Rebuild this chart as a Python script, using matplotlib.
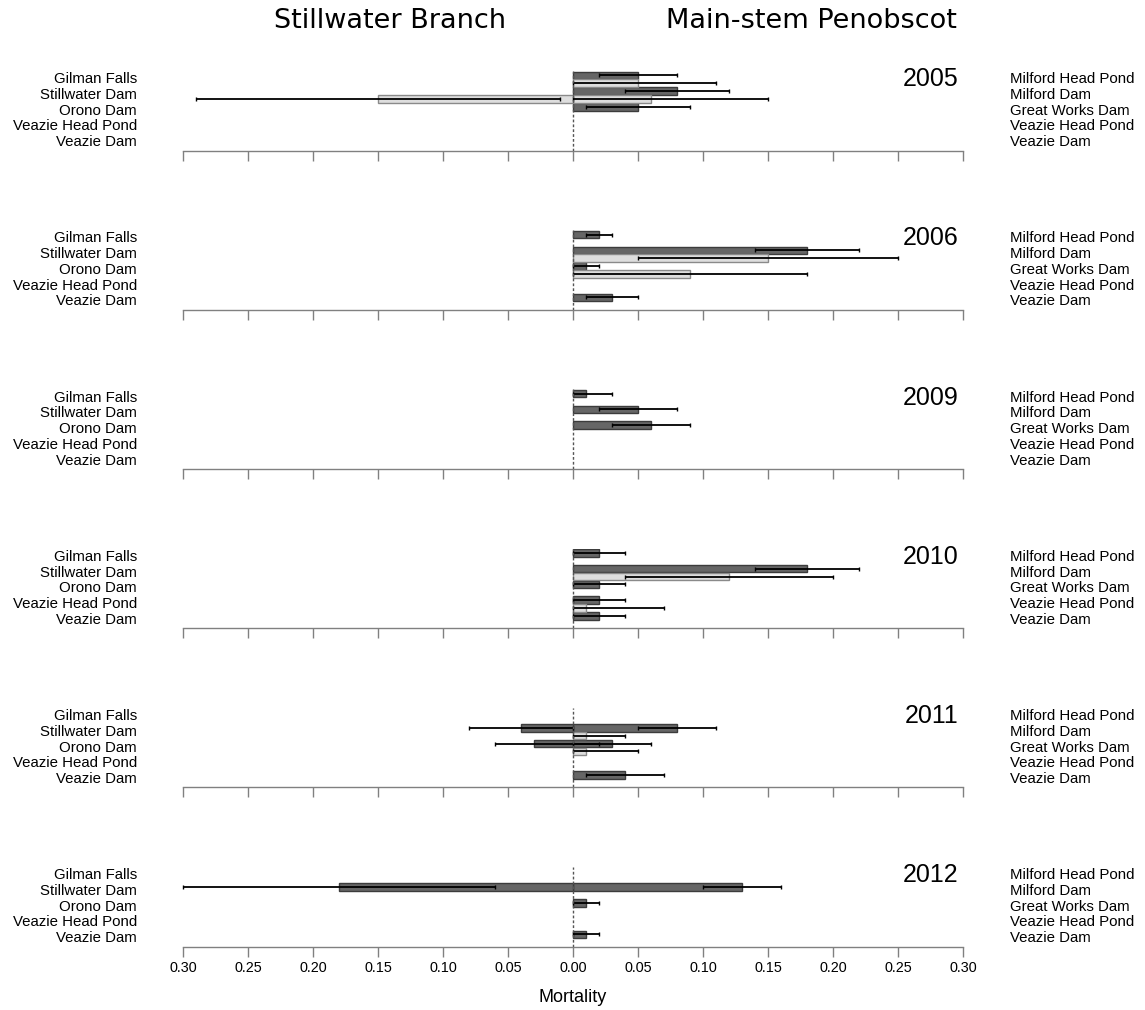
import matplotlib
matplotlib.use("Agg")
import matplotlib.pyplot as plt
import numpy as np

plt.rcParams['font.family'] = ['Liberation Sans', 'DejaVu Sans']

years = [2005, 2006, 2009, 2010, 2011, 2012]
still_sites = ["Gilman Falls", "Stillwater Dam", "Orono Dam", "Veazie Head Pond", "Veazie Dam"]
main_sites = ["Milford Head Pond", "Milford Dam", "Great Works Dam", "Veazie Head Pond", "Veazie Dam"]
tick_vals = [-0.30, -0.25, -0.20, -0.15, -0.10, -0.05, 0.0, 0.05, 0.10, 0.15, 0.20, 0.25, 0.30]

N = None
# Main-stem Penobscot (drawn to the right), dark series: estimate, lower, upper per site
main_dark = [[0.05, 0.08, 0.05, N, N],
             [0.02, 0.18, 0.01, N, 0.03],
             [0.01, 0.05, 0.06, N, N],
             [0.02, 0.18, 0.02, 0.02, 0.02],
             [N, 0.08, 0.03, N, 0.04],
             [N, 0.13, 0.01, N, 0.01]]
main_dark_lo = [[0.02, 0.04, 0.01, N, N],
                [0.01, 0.14, 0.0, N, 0.01],
                [0.0, 0.02, 0.03, N, N],
                [0.0, 0.14, 0.0, 0.0, 0.0],
                [N, 0.05, 0.0, N, 0.01],
                [N, 0.10, 0.0, N, 0.0]]
main_dark_hi = [[0.08, 0.12, 0.09, N, N],
                [0.03, 0.22, 0.02, N, 0.05],
                [0.03, 0.08, 0.09, N, N],
                [0.04, 0.22, 0.04, 0.04, 0.04],
                [N, 0.11, 0.06, N, 0.07],
                [N, 0.16, 0.02, N, 0.02]]
# light series
main_light = [[0.05, 0.06, N, N, N],
              [N, 0.15, 0.09, N, N],
              [N, N, N, N, N],
              [N, 0.12, N, 0.01, N],
              [N, 0.01, 0.01, N, N],
              [N, N, N, N, N]]
main_light_lo = [[0.0, 0.0, N, N, N],
                 [N, 0.05, 0.0, N, N],
                 [N, N, N, N, N],
                 [N, 0.04, N, 0.0, N],
                 [N, 0.0, 0.0, N, N],
                 [N, N, N, N, N]]
main_light_hi = [[0.11, 0.15, N, N, N],
                 [N, 0.25, 0.18, N, N],
                 [N, N, N, N, N],
                 [N, 0.20, N, 0.07, N],
                 [N, 0.04, 0.05, N, N],
                 [N, N, N, N, N]]

# Stillwater Branch (drawn to the left)
still_dark = [[N, N, N, N, N],
              [N, N, N, N, N],
              [N, N, N, N, N],
              [N, N, N, N, N],
              [N, 0.04, 0.03, N, N],
              [N, 0.18, N, N, N]]
still_dark_lo = [[N, N, N, N, N],
                 [N, N, N, N, N],
                 [N, N, N, N, N],
                 [N, N, N, N, N],
                 [N, 0.0, 0.0, N, N],
                 [N, 0.06, N, N, N]]
still_dark_hi = [[N, N, N, N, N],
                 [N, N, N, N, N],
                 [N, N, N, N, N],
                 [N, N, N, N, N],
                 [N, 0.08, 0.08, N, N],
                 [N, 0.30, N, N, N]]
still_light = [[N, 0.15, N, N, N]] + [[N] * 5] * 5
still_light_lo = [[N, 0.01, N, N, N]] + [[N] * 5] * 5
still_light_hi = [[N, 0.29, N, N, N]] + [[N] * 5] * 5

DARK_FC, DARK_EC = '#666666', '#3c3c3c'
LIGHT_FC, LIGHT_EC = '#dedede', '#8a8a8a'


def draw_series(ax, vals, lo, hi, sign, offset, fc, ec):
    for i in range(5):
        v = vals[i]
        if v is None:
            continue
        y = 2 * i + offset
        ax.barh(y, sign * v, height=0.95, color=fc, edgecolor=ec, linewidth=1.0, zorder=2)
        ax.errorbar(sign * v, y, xerr=[[v - lo[i]], [hi[i] - v]], fmt='none',
                    ecolor='black', elinewidth=1.3, capsize=1.5, capthick=1.0,
                    zorder=3, clip_on=False)


W, H = 1145, 1010
fig = plt.figure(figsize=(W / 100, H / 100), dpi=100)

for k, year in enumerate(years):
    axis_y = 150.5 + 159.2 * k
    h_px = 79.5
    ax = fig.add_axes([183 / W, 1 - axis_y / H, 780 / W, h_px / H])

    draw_series(ax, main_dark[k], main_dark_lo[k], main_dark_hi[k], 1, 0, DARK_FC, DARK_EC)
    draw_series(ax, main_light[k], main_light_lo[k], main_light_hi[k], 1, 1, LIGHT_FC, LIGHT_EC)
    draw_series(ax, still_dark[k], still_dark_lo[k], still_dark_hi[k], -1, 0, DARK_FC, DARK_EC)
    draw_series(ax, still_light[k], still_light_lo[k], still_light_hi[k], -1, 1, LIGHT_FC, LIGHT_EC)

    ax.axvline(0, color='#555555', linestyle=(0, (2, 1.5)), linewidth=1.0, zorder=4)

    ax.set_xlim(-0.30, 0.30)
    ax.set_ylim(9.55, -0.55)
    ax.set_yticks([])
    for s in ['top', 'left', 'right']:
        ax.spines[s].set_visible(False)
    ax.spines['bottom'].set_color('#808080')
    ax.spines['bottom'].set_linewidth(1.0)
    ax.set_xticks(tick_vals)
    ax.tick_params(axis='x', direction='out', length=7.2, width=1.0, color='#808080',
                   labelsize=10.4, pad=3)
    if k == len(years) - 1:
        ax.set_xticklabels([f"{abs(t):.2f}" for t in tick_vals])
    else:
        ax.set_xticklabels([])
    ax.patch.set_visible(False)

    trans = ax.get_yaxis_transform()
    for i in range(5):
        yc = 2 * i + 0.5
        ax.text(-0.059, yc, still_sites[i], transform=trans, ha='right', va='center', fontsize=10.8)
        ax.text(1.0603, yc, main_sites[i], transform=trans, ha='left', va='center', fontsize=10.8)
    ax.text(0.9936, 0.5, str(year), transform=trans, ha='right', va='center', fontsize=18)

fig.text(390 / W, 1 - 21 / H, "Stillwater Branch", ha='center', va='center',
         fontsize=19.5, family='DejaVu Sans')
fig.text(811 / W, 1 - 21 / H, "Main-stem Penobscot", ha='center', va='center',
         fontsize=19.5, family='DejaVu Sans')
fig.text(573 / W, 1 - 998 / H, "Mortality", ha='center', va='center', fontsize=13)

fig.savefig("out.png", dpi=100)
